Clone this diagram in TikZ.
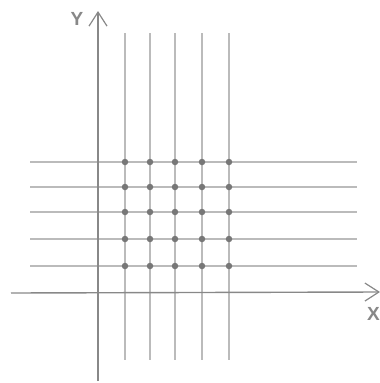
\documentclass[tikz,border=0pt]{standalone}
\usepackage{fontspec}
\setsansfont{Liberation Sans}
\usepackage{tikz}
\usetikzlibrary{arrows.meta}
\definecolor{gridgray}{HTML}{BBBBBB}
\definecolor{axisgray}{HTML}{888888}
\definecolor{dotgray}{HTML}{777777}

\begin{document}
\begin{tikzpicture}[
  x=1pt, y=-1pt,
  gridline/.style = {draw=gridgray, line width=1.3pt},
  axis/.style = {draw=axisgray, line width=1.4pt,
    -{Straight Barb[length=14pt, width=18pt, line width=1.2pt]}},
  dot/.style = {circle, fill=dotgray, inner sep=0pt, minimum size=6.5pt},
  axlabel/.style = {font=\sffamily\bfseries\fontsize{19}{19}\selectfont,
    text=axisgray, inner sep=0pt}
]
  \useasboundingbox (0,0) rectangle (380,383);

  % vertical and horizontal grid lines
  \foreach \i/\x in {1/125, 2/150, 3/175, 4/202, 5/229} {
    \coordinate (vt\i) at (\x,33);
    \coordinate (vb\i) at (\x,360);
    \draw[gridline] (vt\i) -- (vb\i);
  }
  \foreach \j/\y in {1/162, 2/187, 3/212, 4/239, 5/266} {
    \coordinate (hl\j) at (30,\y);
    \coordinate (hr\j) at (357,\y);
    \draw[gridline] (hl\j) -- (hr\j);
  }

  % axes
  \coordinate (ybot) at (98,381);
  \coordinate (ytop) at (98,11);
  \coordinate (xleft) at (11,293);
  \coordinate (xright) at (380,292);
  \draw[axis] (ybot) -- (ytop);
  \draw[axis] (xleft) -- (xright);
  \node[axlabel] (ylab) at (77,19) {Y};
  \node[axlabel, anchor=west] (xlab) at (367,314) {X};

  % dots at the crossings
  \foreach \i in {1,...,5}
    \foreach \j in {1,...,5}
      \node[dot] (p\i\j) at (vt\i |- hl\j) {};
\end{tikzpicture}
\end{document}
